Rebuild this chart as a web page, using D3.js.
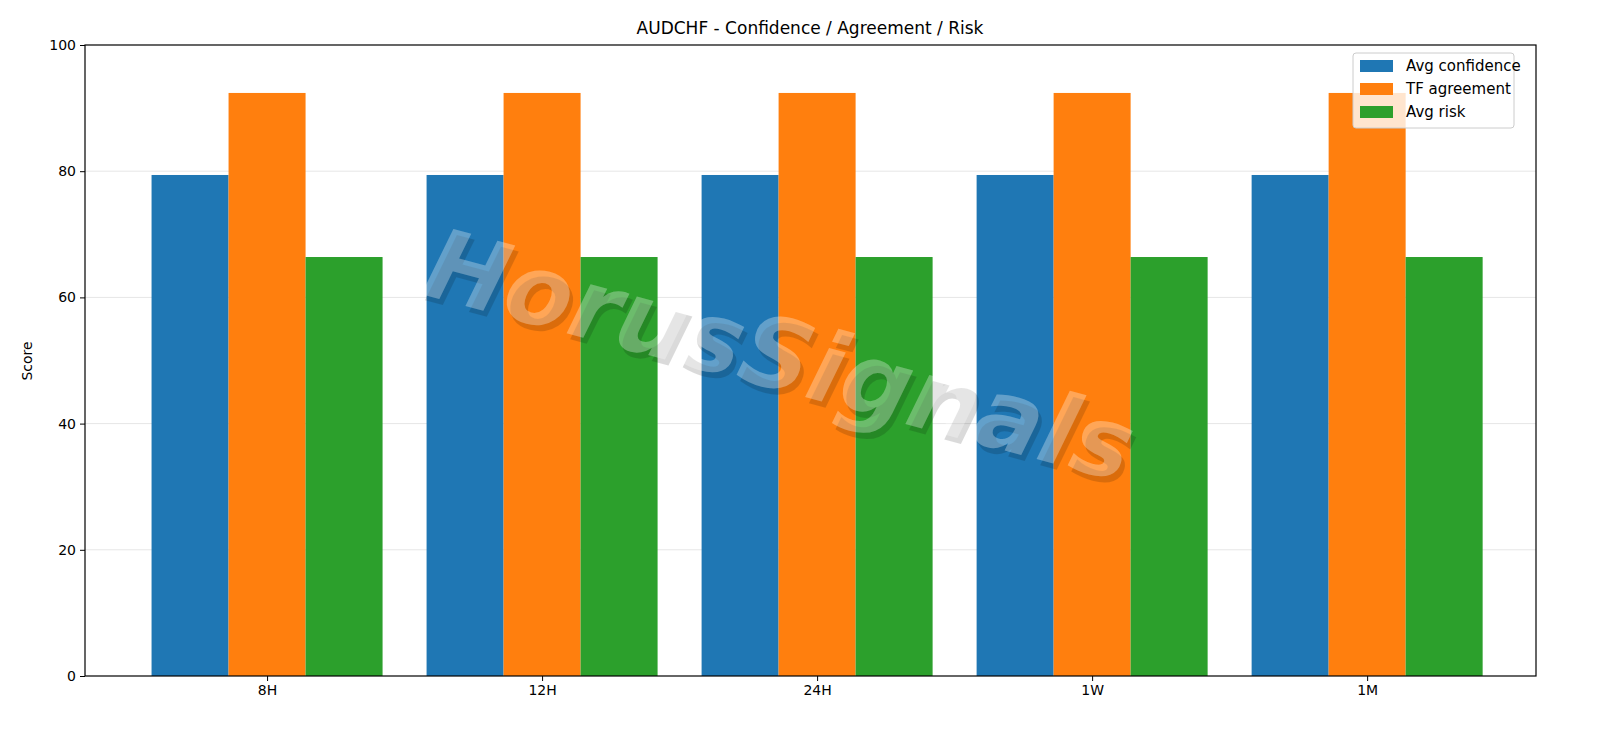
<!DOCTYPE html><html><head><meta charset="utf-8"><script src="https://cdn.jsdelivr.net/npm/d3@7"></script>
<style>body{margin:0;background:#fff}text{font-family:"DejaVu Sans",sans-serif}</style></head><body>
<svg id="c" width="1600" height="738"></svg>
<script>
const categories=["8H","12H","24H","1W","1M"];
const seriesNames=["Avg confidence","TF agreement","Avg risk"];
const avgConfidence=[79.4,79.4,79.4,79.4,79.4];
const tfAgreement=[92.4,92.4,92.4,92.4,92.4];
const avgRisk=[66.4,66.4,66.4,66.4,66.4];
const yTicks=[0,20,40,60,80,100];
const colors=["#1f77b4","#ff7f0e","#2ca02c"];
const series=[avgConfidence,tfAgreement,avgRisk];
const svg=d3.select("#c");
const L=85,R=1536,T=45,B=676;
const x=d3.scaleLinear().domain([-0.662,4.614]).range([L,R]);
const y=d3.scaleLinear().domain([0,100]).range([B,T]);
const bw=0.28;
svg.append("g").selectAll("line").data(yTicks.slice(1,-1)).join("line")
 .attr("x1",L).attr("x2",R).attr("y1",d=>y(d)).attr("y2",d=>y(d)).attr("stroke","#e6e6e6").attr("stroke-width",1);
series.forEach((s,k)=>{
 svg.append("g").selectAll("rect").data(s).join("rect")
  .attr("x",(d,i)=>x(i+(k-1)*bw-bw/2)).attr("width",x(bw)-x(0))
  .attr("y",d=>y(d)).attr("height",d=>B-y(d)).attr("fill",colors[k]);
});
// watermark
const wm=svg.append("g").attr("transform","translate(778,362) rotate(15)");
wm.append("text").attr("x",5).attr("y",5).attr("text-anchor","middle").attr("dominant-baseline","middle")
 .attr("font-size",98).attr("font-weight","bold").attr("font-style","italic").attr("fill","#000").attr("opacity",0.14).text("HorusSignals");
wm.append("text").attr("text-anchor","middle").attr("dominant-baseline","middle")
 .attr("font-size",98).attr("font-weight","bold").attr("font-style","italic").attr("fill","#fff").attr("opacity",0.3).text("HorusSignals");
svg.append("rect").attr("x",L).attr("y",T).attr("width",R-L).attr("height",B-T).attr("fill","none").attr("stroke","#000").attr("stroke-width",1.2);
const ya=svg.append("g").attr("transform",`translate(${L},0)`).call(d3.axisLeft(y).tickValues(yTicks).tickSize(5).tickPadding(4));
ya.select(".domain").remove();
ya.selectAll("text").attr("font-size",14).attr("fill","#000").style("font-family","DejaVu Sans");
const xa=svg.append("g").attr("transform",`translate(0,${B})`).call(d3.axisBottom(x).tickValues([0,1,2,3,4]).tickFormat(i=>categories[i]).tickSize(5).tickPadding(4));
xa.select(".domain").remove();
xa.selectAll("text").attr("font-size",14).attr("fill","#000").style("font-family","DejaVu Sans");
svg.append("text").attr("x",810).attr("y",34).attr("text-anchor","middle").attr("font-size",17).text("AUDCHF - Confidence / Agreement / Risk");
svg.append("text").attr("transform","translate(32,361) rotate(-90)").attr("text-anchor","middle").attr("font-size",14).text("Score");
const lg=svg.append("g");
lg.append("rect").attr("x",1353).attr("y",53).attr("width",161).attr("height",75).attr("rx",3).attr("fill","#fff").attr("fill-opacity",0.8).attr("stroke","#ccc");
seriesNames.forEach((n,k)=>{
 lg.append("rect").attr("x",1360).attr("y",60+k*23).attr("width",33).attr("height",12).attr("fill",colors[k]);
 lg.append("text").attr("x",1406).attr("y",71+k*23).attr("font-size",15).text(n);
});
</script></body></html>
